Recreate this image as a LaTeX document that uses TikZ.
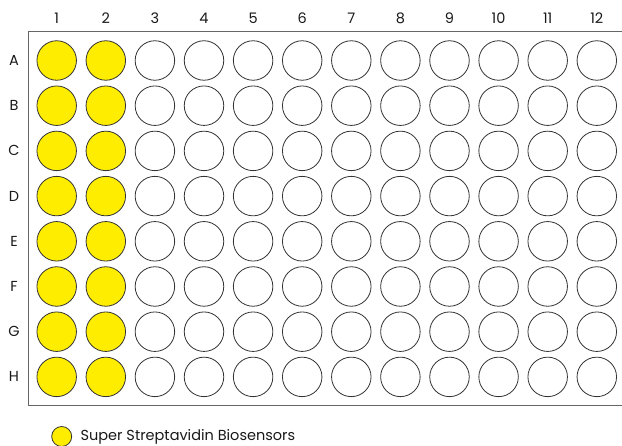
\documentclass[tikz,border=0pt]{standalone}
\usepackage{fontspec}
\setmainfont{Poppins}
\usetikzlibrary{positioning}
\definecolor{wellyellow}{HTML}{FFED00}
\definecolor{welledge}{HTML}{333333}
\definecolor{platefrm}{HTML}{666666}

\begin{document}
\begin{tikzpicture}[x=1pt, y=-1pt,
    every node/.style={font=\fontsize{14.5}{16}\selectfont, text=black!90},
    well/.style={circle, draw=welledge, line width=0.8pt, minimum size=39.5pt, inner sep=0pt, fill=white},
    sample/.style={well, fill=wellyellow}]
	\useasboundingbox (0,0) rectangle (622,446);
	% plate frame (open to the right)
	\draw[platefrm, line width=1pt] (622,32) -- (28,32) -- (28,406) -- (622,406);
	% column and row labels
	\foreach \c in {1,...,12}
		\node (col\c) at ({56.7+49.1*(\c-1)},18.5) {\c};
	\foreach \r [count=\i] in {A,B,C,D,E,F,G,H}
		\node (row\r) at (14,{60.5+45.2*(\i-1)}) {\r};
	% wells
	\foreach \r [count=\i] in {A,B,C,D,E,F,G,H} {
		\foreach \c in {1,2}
			\node[sample] (\r\c) at ({56.7+49.1*(\c-1)},{60.5+45.2*(\i-1)}) {};
		\foreach \c in {3,...,12}
			\node[well] (\r\c) at ({56.7+49.1*(\c-1)},{60.5+45.2*(\i-1)}) {};
	}
	% legend
	\node[sample, minimum size=20pt] (key) at (61.7,436.5) {};
	\node[right=5pt of key] (keytext) {Super Streptavidin Biosensors};
\end{tikzpicture}
\end{document}
